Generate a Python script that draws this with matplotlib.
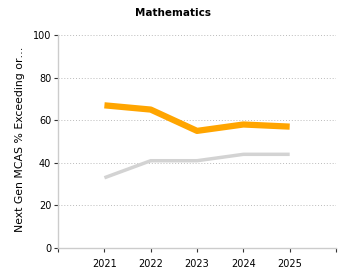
import matplotlib
matplotlib.use("Agg")
import matplotlib.pyplot as plt

years = [2021, 2022, 2023, 2024, 2025]
school = [67, 65, 55, 58, 57]
state = [33, 41, 41, 44, 44]
yticks = [0, 20, 40, 60, 80, 100]

plt.rcParams['font.family'] = ['DejaVu Sans']
fig = plt.figure(figsize=(3.5, 2.8), dpi=100)
ax = fig.add_axes([0.166, 0.114, 0.794, 0.761])

ax.plot(years, state, color='#d3d3d3', lw=2.5, solid_capstyle='butt', zorder=3)
ax.plot(years, school, color='#ffa500', lw=4.5, solid_capstyle='butt', zorder=4)

ax.set_xlim(2020, 2026)
ax.set_ylim(0, 100)
ax.set_xticks(years)
ax.set_xticklabels([str(y) for y in years], fontsize=7)
ax.set_xticks([2020, 2026], minor=True)
ax.set_yticks(yticks)
ax.set_yticklabels([str(v) for v in yticks], fontsize=7)
ax.tick_params(axis='both', which='both', length=3, width=0.8, color='#333333', pad=2)
ax.tick_params(axis='x', which='major', pad=5)

for v in yticks[1:]:
    ax.axhline(v, color='#bbbbbb', lw=0.7, ls=(0, (1, 2)), zorder=1)

for s in ['top', 'right']:
    ax.spines[s].set_visible(False)
for s in ['left', 'bottom']:
    ax.spines[s].set_color('#cccccc')
    ax.spines[s].set_linewidth(1)

ax.set_ylabel('Next Gen MCAS % Exceeding or…', fontsize=7.8, va='center')
ax.yaxis.set_label_coords(-0.137, 0.51)
fig.text(0.495, 0.955, 'Mathematics', ha='center', va='center', fontsize=7.5, fontweight='bold')

fig.savefig('out.png', dpi=100)
